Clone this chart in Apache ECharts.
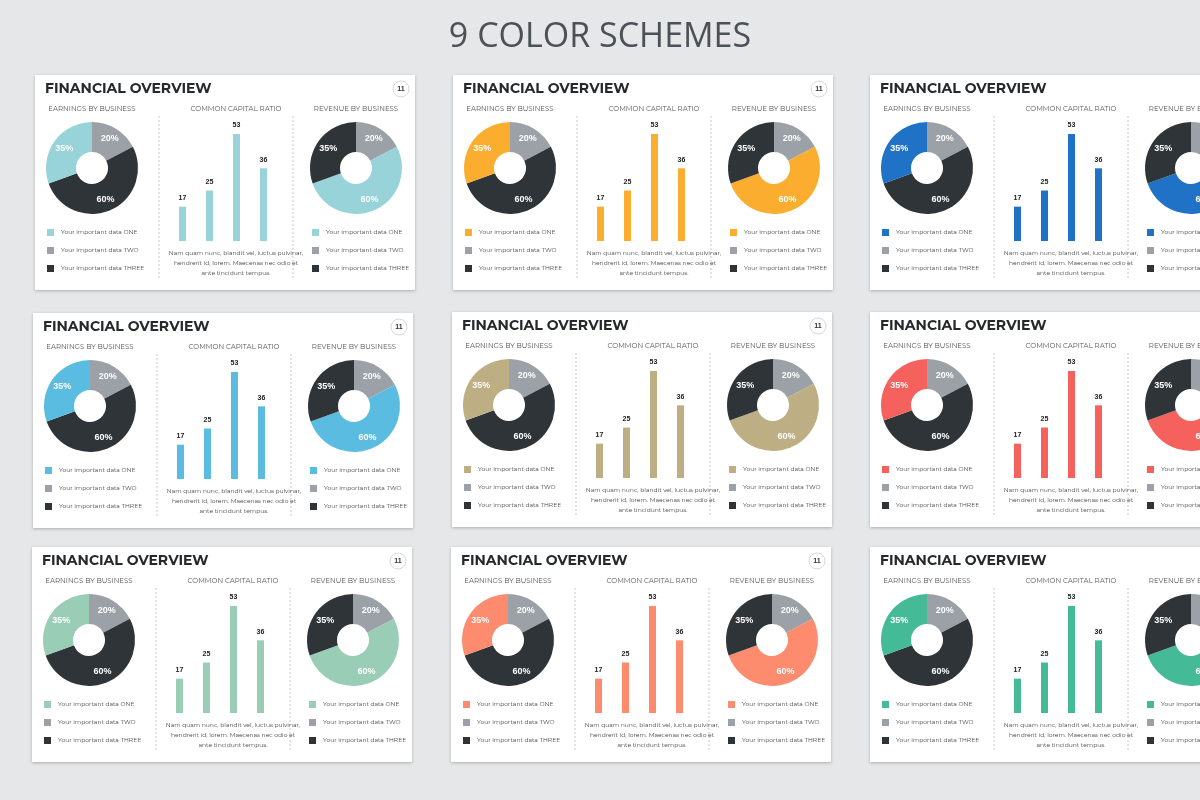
<!DOCTYPE html>
<html><head><meta charset="utf-8">
<script src="https://cdn.jsdelivr.net/npm/echarts@6/dist/echarts.min.js"></script>
<style>html,body{margin:0;padding:0;background:#e6e7e9}#c{width:1200px;height:800px}</style>
</head><body><div id="c"></div>
<script>
const schemeColors = ['#97d3d8','#fbad2f','#1f72c6','#5bbce2','#bdae84','#f5625d','#9acdb5','#fd8c6f','#45ba96'];
const panelOrigins = [[35,75],[453,75],[870,75],[33,313],[452,312],[870,312],[32,547],[451,547],[870,547]];
const barCategories = ['A','B','C','D'];
const barValues = [17,25,53,36];
const pieNames = ['Your important data TWO','Your important data THREE','Your important data ONE'];
const earningsValues = [20,60,35];
const revenueValues = [20,60,35];
const legendLabels = ['Your important data ONE','Your important data TWO','Your important data THREE'];
const paragraph = ['Nam quam nunc, blandit vel, luctus pulvinar,','hendrerit id, lorem. Maecenas nec odio et','ante tincidunt tempus.'];
const DARK='#2f3438', GREY='#9ba1a7';
const FONT='Montserrat, "Open Sans", Lato, sans-serif';

const grids=[],xAxes=[],yAxes=[],series=[],graphics=[];
graphics.push({type:'text',left:'center',top:20,style:{text:'9 COLOR SCHEMES',fontSize:34,fill:'#4b5157',fontFamily:'"Open Sans", sans-serif',fontWeight:400}});
panelOrigins.forEach(([px,py],i)=>{
  const c=schemeColors[i];
  graphics.push({type:'rect',shape:{x:px,y:py,width:380,height:215},style:{fill:'#fff',shadowBlur:3,shadowColor:'rgba(0,0,0,0.25)',shadowOffsetY:1},z:0});
  graphics.push({type:'text',x:px+10,y:py+7,style:{text:'FINANCIAL OVERVIEW',fontSize:14,fontWeight:'bold',fill:'#25292c',fontFamily:FONT},z:2});
  graphics.push({type:'circle',shape:{cx:px+366,cy:py+14,r:8},style:{fill:'#fff',stroke:'#d8d8d8',lineWidth:1},z:2});
  graphics.push({type:'text',x:px+366,y:py+14,style:{text:'11',fontSize:7,fontWeight:'bold',fill:'#333',align:'center',verticalAlign:'middle'},z:3});
  [['EARNINGS BY BUSINESS',57],['COMMON CAPITAL RATIO',201],['REVENUE BY BUSINESS',321]].forEach(([t,x])=>{
    graphics.push({type:'text',x:px+x,y:py+34,style:{text:t,fontSize:7,fill:'#555',align:'center',verticalAlign:'middle',fontFamily:FONT},z:2});
  });
  [124,258].forEach(x=>graphics.push({type:'line',shape:{x1:px+x,y1:py+41,x2:px+x,y2:py+203},style:{stroke:'#c8c8c8',lineDash:[2,2],lineWidth:1},z:2}));
  [0,1].forEach(k=>{
    const lx=px+(k?277:12);
    legendLabels.forEach((t,j)=>{
      const col=[c,GREY,DARK][j];
      graphics.push({type:'rect',shape:{x:lx,y:py+154+j*18,width:7,height:7},style:{fill:col},z:2});
      graphics.push({type:'text',x:lx+14,y:py+157.5+j*18,style:{text:t,fontSize:6,fill:'#444',verticalAlign:'middle',fontFamily:FONT},z:2});
    });
  });
  paragraph.forEach((t,j)=>graphics.push({type:'text',x:px+201,y:py+178+j*10,style:{text:t,fontSize:6,fill:'#444',align:'center',verticalAlign:'middle',fontFamily:FONT},z:2}));
  grids.push({left:px+134,top:py+59,width:108,height:107});
  xAxes.push({type:'category',gridIndex:i,data:barCategories,show:false});
  yAxes.push({type:'value',gridIndex:i,min:0,max:53,show:false});
  series.push({type:'bar',xAxisIndex:i,yAxisIndex:i,data:barValues,barWidth:7,itemStyle:{color:c},z:5,
    label:{show:true,position:'top',distance:5,fontSize:7,fontWeight:'bold',color:'#222'}});
  [[57,earningsValues,[GREY,DARK,c]],[321,revenueValues,[GREY,c,DARK]]].forEach(([cx,vals,cols])=>{
    series.push({type:'pie',center:[px+cx,py+93],radius:[16,46],startAngle:90,clockwise:true,silent:true,z:5,
      data:vals.map((v,j)=>({name:pieNames[j],value:v,itemStyle:{color:cols[j]}})),
      label:{show:true,position:'inside',formatter:'{c}%',fontSize:9,fontWeight:'bold',color:'#fff'},labelLine:{show:false}});
  });
});
const chart=echarts.init(document.getElementById('c'));
chart.setOption({backgroundColor:'#e6e7e9',animation:false,grid:grids,xAxis:xAxes,yAxis:yAxes,series:series,graphic:graphics});
</script></body></html>
